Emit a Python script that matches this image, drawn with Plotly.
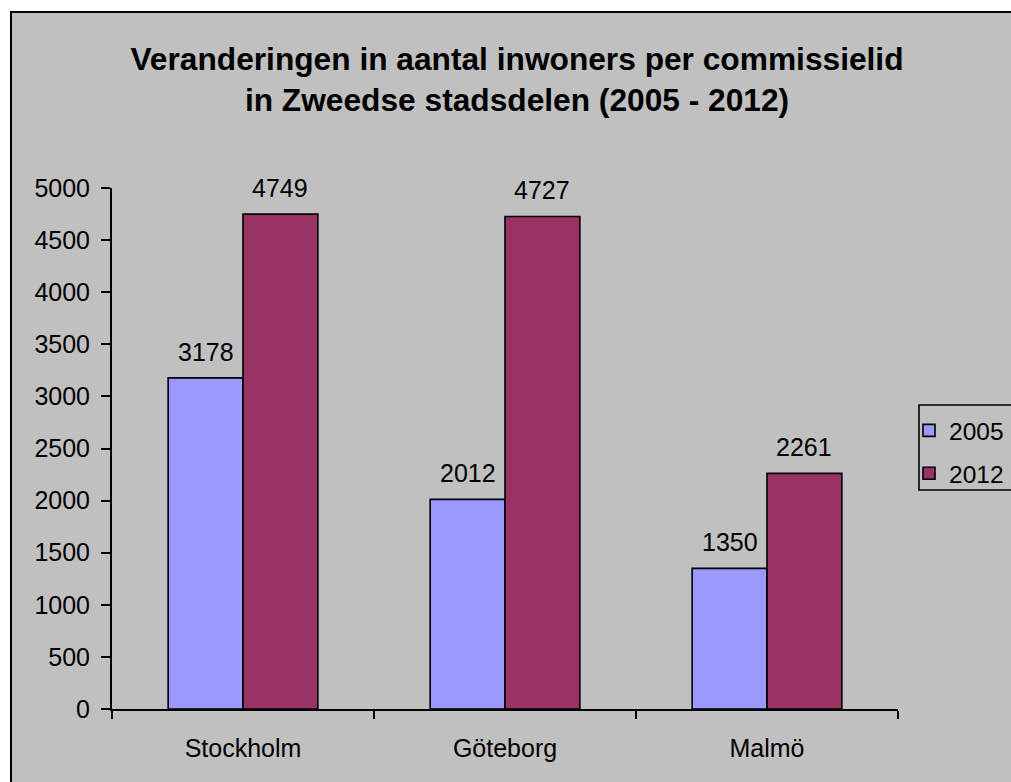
import plotly.graph_objects as go

categories = ["Stockholm", "Göteborg", "Malmö"]
series_names = ["2005", "2012"]
values_2005 = [3178, 2012, 1350]
values_2012 = [4749, 4727, 2261]
y_ticks = [0, 500, 1000, 1500, 2000, 2500, 3000, 3500, 4000, 4500, 5000]
title_text = "Veranderingen in aantal inwoners per commissielid<br>in Zweedse stadsdelen (2005 - 2012)"

colors = ["#9999FF", "#993366"]
FONT = "Liberation Sans, Arial, sans-serif"

OFF = 0  # page body margin removed via post_script
W, H = 1011, 782
L = 112 - OFF
R = W - (898 - OFF)
T = 188 - OFF
B = H - (709 - OFF)
pw, ph = W - L - R, H - T - B

def px_x(x):
    return (x - OFF - L) / pw

def px_y(y):
    return (H - B - (y - OFF)) / ph

fig = go.Figure()
for name, vals, col, grp in zip(series_names, [values_2005, values_2012], colors, ["a", "b"]):
    fig.add_trace(go.Bar(
        x=categories, y=vals, name=name, legendgroup=grp,
        marker=dict(color=col, line=dict(color="black", width=1.6)),
    ))

# data labels
half = pw / 3 * (2 / 3.5) / 4
for vals, shift in [(values_2005, -half), (values_2012, half)]:
    for c, v in zip(categories, vals):
        fig.add_annotation(x=c, y=v, text=str(v), showarrow=False,
                           xref="x", yref="y", xshift=shift, yshift=10,
                           yanchor="bottom", font=dict(family=FONT, size=25, color="black"))

fig.update_layout(
    width=W, height=H,
    margin=dict(l=L, r=R, t=T, b=B, pad=0, autoexpand=False),
    paper_bgcolor="white",
    plot_bgcolor="rgba(0,0,0,0)",
    bargap=1.5 / 3.5, bargroupgap=0,
    barmode="group",
    font=dict(family=FONT, color="black"),
    title=dict(text="<b>" + title_text + "</b>", x=(517 - OFF) / W, xanchor="center", xref="container",
               y=1 - (70 - OFF) / H, yanchor="top", yref="container",
               font=dict(family=FONT, size=31.7, color="black")),
    showlegend=True,
    legend=dict(x=px_x(909), y=px_y(408), xanchor="left", yanchor="top",
                bgcolor="rgba(0,0,0,0)", borderwidth=0, tracegroupgap=8,
                font=dict(family=FONT, size=24.5, color="black"), itemwidth=30),
    xaxis=dict(showline=True, linecolor="black", linewidth=2, ticks="outside", ticklen=8,
               tickwidth=2, tickcolor="black", tickson="boundaries", showgrid=False,
               tickfont=dict(family=FONT, size=25, color="black"), ticklabelstandoff=16),
    yaxis=dict(range=[0, 5000], tickvals=y_ticks, showline=True, linecolor="black", linewidth=2,
               ticks="outside", ticklen=9, tickwidth=2, tickcolor="black", showgrid=False,
               zeroline=False, tickfont=dict(family=FONT, size=25, color="black"),
               ticklabelstandoff=6),
)

# chart area border (filled grey) and legend frame
fig.add_shape(type="rect", xref="paper", yref="paper",
              x0=px_x(11), x1=px_x(1040), y0=px_y(820), y1=px_y(12),
              line=dict(color="black", width=2), fillcolor="#C0C0C0", layer="below")
fig.add_shape(type="rect", xref="paper", yref="paper",
              x0=px_x(919), x1=px_x(1040), y0=px_y(490), y1=px_y(405),
              line=dict(color="black", width=1.6), fillcolor="rgba(0,0,0,0)", layer="above")

fig.write_html("out.html", config={"displayModeBar": False},
               post_script="document.body.style.margin='0';document.body.style.overflow='hidden';")
